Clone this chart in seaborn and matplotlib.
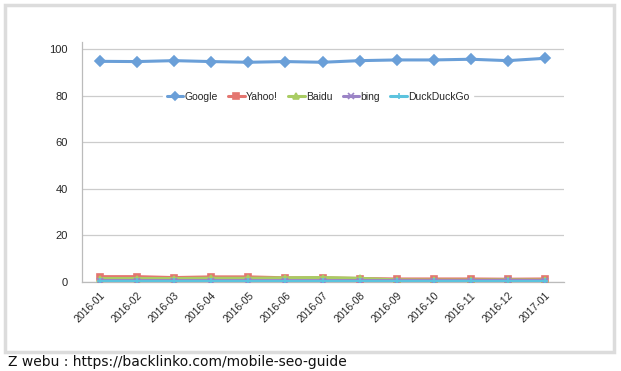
import matplotlib
matplotlib.use("Agg")
import matplotlib.pyplot as plt
import seaborn as sns
import pandas as pd
from matplotlib.patches import Rectangle

months = ["2016-01", "2016-02", "2016-03", "2016-04", "2016-05", "2016-06", "2016-07",
          "2016-08", "2016-09", "2016-10", "2016-11", "2016-12", "2017-01"]
google = [94.7, 94.6, 95.0, 94.6, 94.3, 94.6, 94.3, 95.0, 95.3, 95.3, 95.6, 95.0, 96.0]
yahoo = [2.3, 2.3, 1.9, 2.2, 2.2, 1.8, 1.8, 1.5, 1.3, 1.3, 1.3, 1.2, 1.3]
baidu = [1.5, 1.5, 1.5, 1.6, 1.6, 1.8, 1.9, 1.6, 0.9, 0.8, 0.8, 0.9, 0.8]
bing = [0.6, 0.6, 0.6, 0.6, 0.6, 0.6, 0.6, 0.6, 0.6, 0.6, 0.6, 0.7, 0.6]
duck = [0.3, 0.3, 0.3, 0.3, 0.3, 0.3, 0.3, 0.3, 0.3, 0.3, 0.3, 0.3, 0.3]

series = {"Google": google, "Yahoo!": yahoo, "Baidu": baidu, "bing": bing, "DuckDuckGo": duck}
colors = {"Google": "#6a9fd8", "Yahoo!": "#e47670", "Baidu": "#a9cc63",
          "bing": "#9b84c6", "DuckDuckGo": "#5cc3de"}
markers = {"Google": "D", "Yahoo!": "s", "Baidu": "^", "bing": "x", "DuckDuckGo": "+"}

sns.set_style("white")
plt.rcParams["font.family"] = ["Liberation Sans", "DejaVu Sans"]

fig = plt.figure(figsize=(6.21, 3.71), dpi=100)
# outer frame
fig.patches.append(Rectangle((5 / 621, 1 - 352 / 371), 609 / 621, 347 / 371,
                             transform=fig.transFigure, fill=False,
                             edgecolor="#dcdcdc", linewidth=2.5))

ax = fig.add_axes([81.5 / 621, 1 - 282 / 371, 482 / 621, 240 / 371])
for name, vals in series.items():
    d = pd.DataFrame({"idx": range(len(months)), "value": vals})
    c = colors[name]
    sns.lineplot(data=d, x="idx", y="value", color=c, marker=markers[name],
                 markersize=5, markeredgecolor=c, markerfacecolor=c, markeredgewidth=1.2,
                 linewidth=2.2, label=name, ax=ax, zorder=3)

ax.set_xlim(-0.5, 12.5)
ax.set_ylim(0, 103)
ax.set_yticks([0, 20, 40, 60, 80, 100])
ax.set_xticks(range(len(months)))
ax.set_xticklabels(months, rotation=45, ha="right", rotation_mode="anchor", fontsize=7.5)
ax.tick_params(axis="y", labelsize=8, length=4, color="#aaaaaa", pad=6)
ax.tick_params(axis="x", length=3, color="#aaaaaa", pad=3)
ax.yaxis.grid(True, color="#cccccc", linewidth=0.9)
ax.set_axisbelow(True)
for s in ["top", "right"]:
    ax.spines[s].set_visible(False)
for s in ["left", "bottom"]:
    ax.spines[s].set_color("#bbbbbb")
    ax.spines[s].set_linewidth(0.9)
ax.set_xlabel("")
ax.set_ylabel("")

handles, labels = ax.get_legend_handles_labels()
leg = ax.legend(handles, labels, ncol=5, loc="center", bbox_to_anchor=(318 / 621, 1 - 97 / 371),
                bbox_transform=fig.transFigure, frameon=True, facecolor="white", edgecolor="white",
                framealpha=1, fontsize=7.5, handlelength=1.6, handletextpad=0.1,
                columnspacing=1.0, borderpad=0.3, markerscale=0.8)

fig.text(8 / 621, 1 - 362 / 371, "Z webu : https://backlinko.com/mobile-seo-guide",
         fontsize=10, family="DejaVu Sans", va="center", ha="left", color="#111111")

fig.savefig("out.png", dpi=100)
